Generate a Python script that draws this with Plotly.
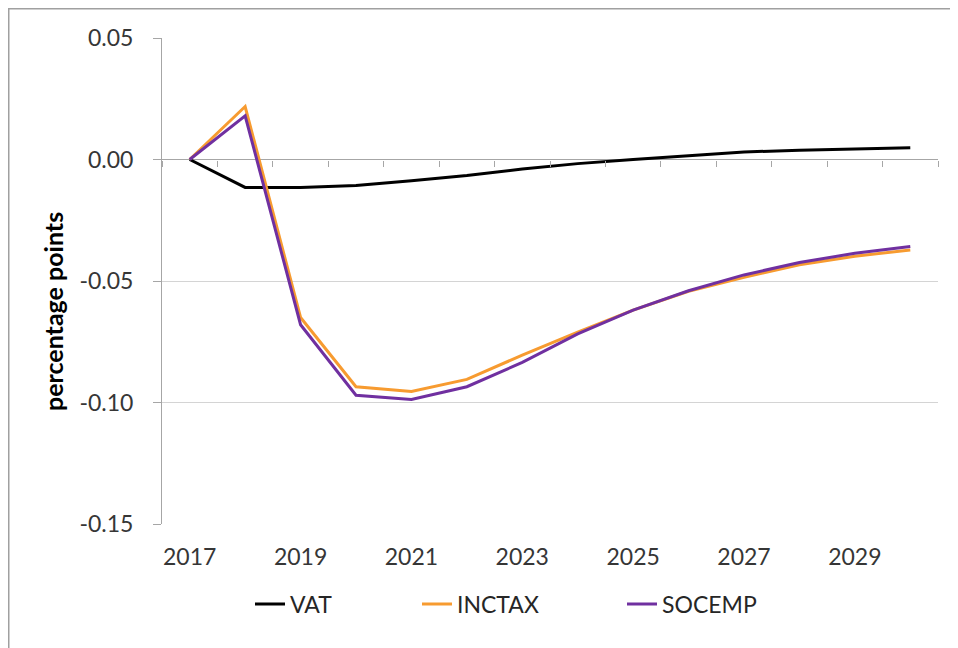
import plotly.graph_objects as go

years = [str(y) for y in range(2017, 2031)]
vat = [0.0, -0.0115, -0.0115, -0.0107, -0.0087, -0.0066, -0.0039, -0.0017, 0.0, 0.0016, 0.0031, 0.0038, 0.0044, 0.0048]
inctax = [0.0, 0.0218, -0.0650, -0.0935, -0.0955, -0.0905, -0.0805, -0.0710, -0.0620, -0.0542, -0.0485, -0.0433, -0.0398, -0.0372]
socemp = [0.0, 0.0180, -0.0680, -0.0970, -0.0988, -0.0935, -0.0835, -0.0718, -0.0620, -0.0540, -0.0475, -0.0424, -0.0386, -0.0358]
x_ticks = ["2017", "2019", "2021", "2023", "2025", "2027", "2029"]
y_ticks = [-0.15, -0.10, -0.05, 0.0, 0.05]
y_ticktext = ["-0.15", "-0.10", "-0.05", "0.00", "0.05"]

# page body has an 8px margin, so the figure is laid out 8px smaller/shifted
OFF = 8
W, H = 958 - OFF, 648 - OFF
L, R, T, B = 162 - OFF, 938 - OFF, 38 - OFF, 524 - OFF
xd = [L / W, R / W]
yd = [1 - B / H, 1 - T / H]
ymin, ymax = -0.15, 0.05
zero_pos = yd[0] + (0 - ymin) / (ymax - ymin) * (yd[1] - yd[0])

font = "Lato, 'Open Sans', sans-serif"
tick_color = "#363636"
grid_color = "#D4D4D4"
axis_color = "#A6A6A6"

fig = go.Figure()
fig.add_trace(go.Scatter(x=years, y=vat, name="VAT", mode="lines",
                         line=dict(color="#000000", width=3), legendwidth=122))
fig.add_trace(go.Scatter(x=years, y=inctax, name="INCTAX", mode="lines",
                         line=dict(color="#F79B30", width=3), legendwidth=160))
fig.add_trace(go.Scatter(x=years, y=socemp, name="SOCEMP", mode="lines",
                         line=dict(color="#7030A0", width=3)))
# invisible helper trace for the zero-crossing category tick axis
fig.add_trace(go.Scatter(x=years, y=vat, xaxis="x2", mode="lines", opacity=0,
                         line=dict(width=0), showlegend=False, hoverinfo="skip"))

fig.update_layout(
    width=W, height=H,
    margin=dict(l=0, r=0, t=0, b=0, autoexpand=False),
    paper_bgcolor="white", plot_bgcolor="white",
    font=dict(family=font, size=23, color=tick_color),
    showlegend=True,
    legend=dict(orientation="h", x=(250 - OFF) / W, xanchor="left",
                y=1 - (604 - OFF) / H, yanchor="middle",
                font=dict(family=font, size=23, color="#262626"), bgcolor="rgba(0,0,0,0)",
                tracegroupgap=0),
    xaxis=dict(domain=xd, type="category", categoryorder="array", categoryarray=years,
               range=[-0.5, 13.5], tickmode="array", tickvals=x_ticks, ticktext=x_ticks,
               showgrid=False, showline=False, ticks="", zeroline=False, automargin=False,
               tickfont=dict(family=font, size=23, color=tick_color), ticklabelstandoff=17),
    xaxis2=dict(domain=xd, type="category", categoryorder="array", categoryarray=years,
                overlaying="x", anchor="free", position=zero_pos, side="bottom",
                range=[-0.5, 13.5], tickmode="linear", tick0=0, dtick=1, tickson="boundaries",
                ticks="outside", ticklen=6, tickwidth=1, tickcolor=axis_color, automargin=False,
                showticklabels=False, showgrid=False, showline=False, zeroline=False),
    yaxis=dict(domain=yd, range=[ymin, ymax], tickmode="array", tickvals=y_ticks, ticktext=y_ticktext,
               showgrid=True, gridcolor=grid_color, gridwidth=1, automargin=False,
               zeroline=True, zerolinecolor=axis_color, zerolinewidth=1,
               showline=True, linecolor=axis_color, linewidth=1,
               ticks="outside", ticklen=8, tickcolor=axis_color,
               tickfont=dict(family=font, size=23, color=tick_color), ticklabelstandoff=15),
    annotations=[dict(text="<b>percentage points</b>", xref="paper", yref="paper",
                      x=(53 - OFF) / W, y=1 - (312 - OFF) / H, xanchor="center", yanchor="middle",
                      textangle=-90, showarrow=False,
                      font=dict(family=font, size=25, color="#000000"))],
    shapes=[dict(type="rect", xref="paper", yref="paper", x0=0.75 / W, y0=-0.01, x1=1.01, y1=1 - 0.75 / H,
                 line=dict(color="#A0A0A0", width=1.5), fillcolor="rgba(0,0,0,0)", layer="below")],
)

fig.write_html("out.html")
